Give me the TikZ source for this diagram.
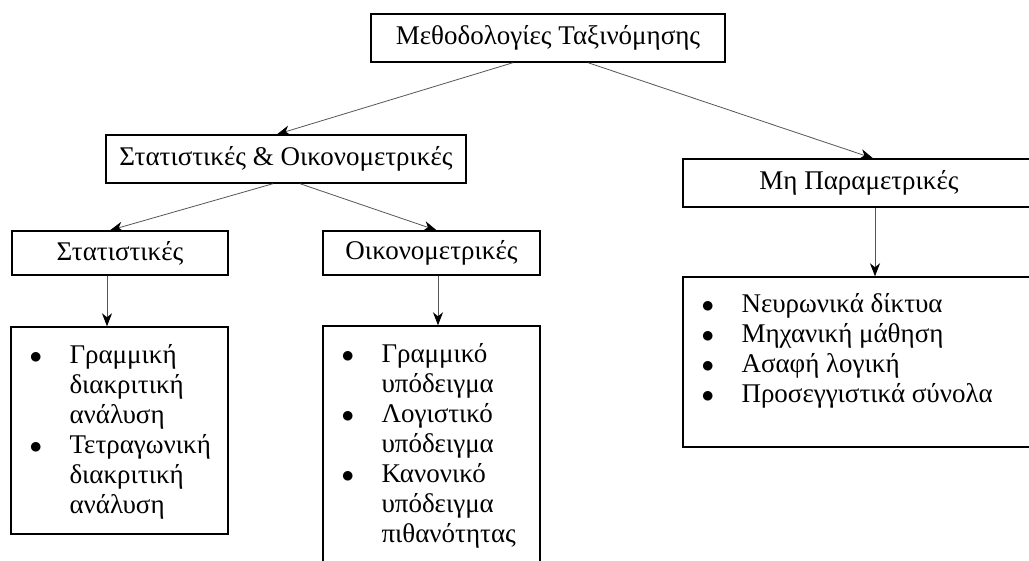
\documentclass[tikz,border=0pt]{standalone}
\usepackage{fontspec}
\setmainfont{Liberation Serif}
\definecolor{lineGrey}{HTML}{555555}
\usepackage{tikz}
\usetikzlibrary{arrows.meta}

\begin{document}
\begin{tikzpicture}[x=1pt, y=-1pt,
  box/.style={draw=black, line width=1.4pt, inner sep=0pt,
              font=\fontsize{27}{30}\selectfont},
  listtxt/.style={inner sep=0pt, anchor=base west,
                  font=\fontsize{27}{30}\selectfont},
  arr/.style={draw=lineGrey, line width=0.8pt,
              -{Stealth[length=13pt, width=10pt, inset=4pt, color=black]}}]
\useasboundingbox (0,0) rectangle (1029,561);
\clip (0,0) rectangle (1029,561);
% headings
\node[box, minimum width=354pt, minimum height=48pt] (meth) at (548,38) {Μεθοδολογίες Ταξινόμησης};
\node[box, minimum width=360pt, minimum height=48pt] (statoik) at (286,159) {Στατιστικές \& Οικονομετρικές};
\node[box, minimum width=352pt, minimum height=48pt] (nonpar) at (859,183) {Μη Παραμετρικές};
\node[box, minimum width=216pt, minimum height=44pt] (stat) at (120,253) {Στατιστικές};
\node[box, minimum width=217pt, minimum height=44pt] (oik) at (431.5,253) {Οικονομετρικές};
% lists
\node[box, minimum width=217pt, minimum height=207pt] (statlist) at (119.5,430.5) {};
\node[box, minimum width=217pt, minimum height=274pt] (oiklist) at (431.5,463) {};
\node[box, minimum width=352pt, minimum height=170pt] (nonparlist) at (859,362) {};
\node[listtxt] at ([shift={(19pt,-37pt)}]statlist.north west)
  {\begin{tabular}[t]{@{}p{40pt}@{}l@{}}
   $\bullet$ & Γραμμική\\ & διακριτική\\ & ανάλυση\\
   $\bullet$ & Τετραγωνική\\ & διακριτική\\ & ανάλυση
   \end{tabular}};
\node[listtxt] at ([shift={(19pt,-37pt)}]oiklist.north west)
  {\begin{tabular}[t]{@{}p{40pt}@{}l@{}}
   $\bullet$ & Γραμμικό\\ & υπόδειγμα\\
   $\bullet$ & Λογιστικό\\ & υπόδειγμα\\
   $\bullet$ & Κανονικό\\ & υπόδειγμα\\ & πιθανότητας
   \end{tabular}};
\node[listtxt] at ([shift={(19pt,-36pt)}]nonparlist.north west)
  {\begin{tabular}[t]{@{}p{40pt}@{}l@{}}
   $\bullet$ & Νευρωνικά δίκτυα\\
   $\bullet$ & Μηχανική μάθηση\\
   $\bullet$ & Ασαφή λογική\\
   $\bullet$ & Προσεγγιστικά σύνολα
   \end{tabular}};
% connectors
\draw[arr] ([xshift=-35pt]meth.south) -- ([xshift=-9pt]statoik.north);
\draw[arr] ([xshift=40pt]meth.south) -- ([xshift=14pt]nonpar.north);
\draw[arr] ([xshift=-13pt]statoik.south) -- ([xshift=-10pt]stat.north);
\draw[arr] ([xshift=14pt]statoik.south) -- ([xshift=5pt]oik.north);
\draw[arr] ([xshift=-13pt]stat.south) -- ([xshift=-12.5pt]statlist.north);
\draw[arr] ([xshift=6.5pt]oik.south) -- ([xshift=6.5pt]oiklist.north);
\draw[arr] ([xshift=16pt]nonpar.south) -- ([xshift=16pt]nonparlist.north);
\end{tikzpicture}
\end{document}
